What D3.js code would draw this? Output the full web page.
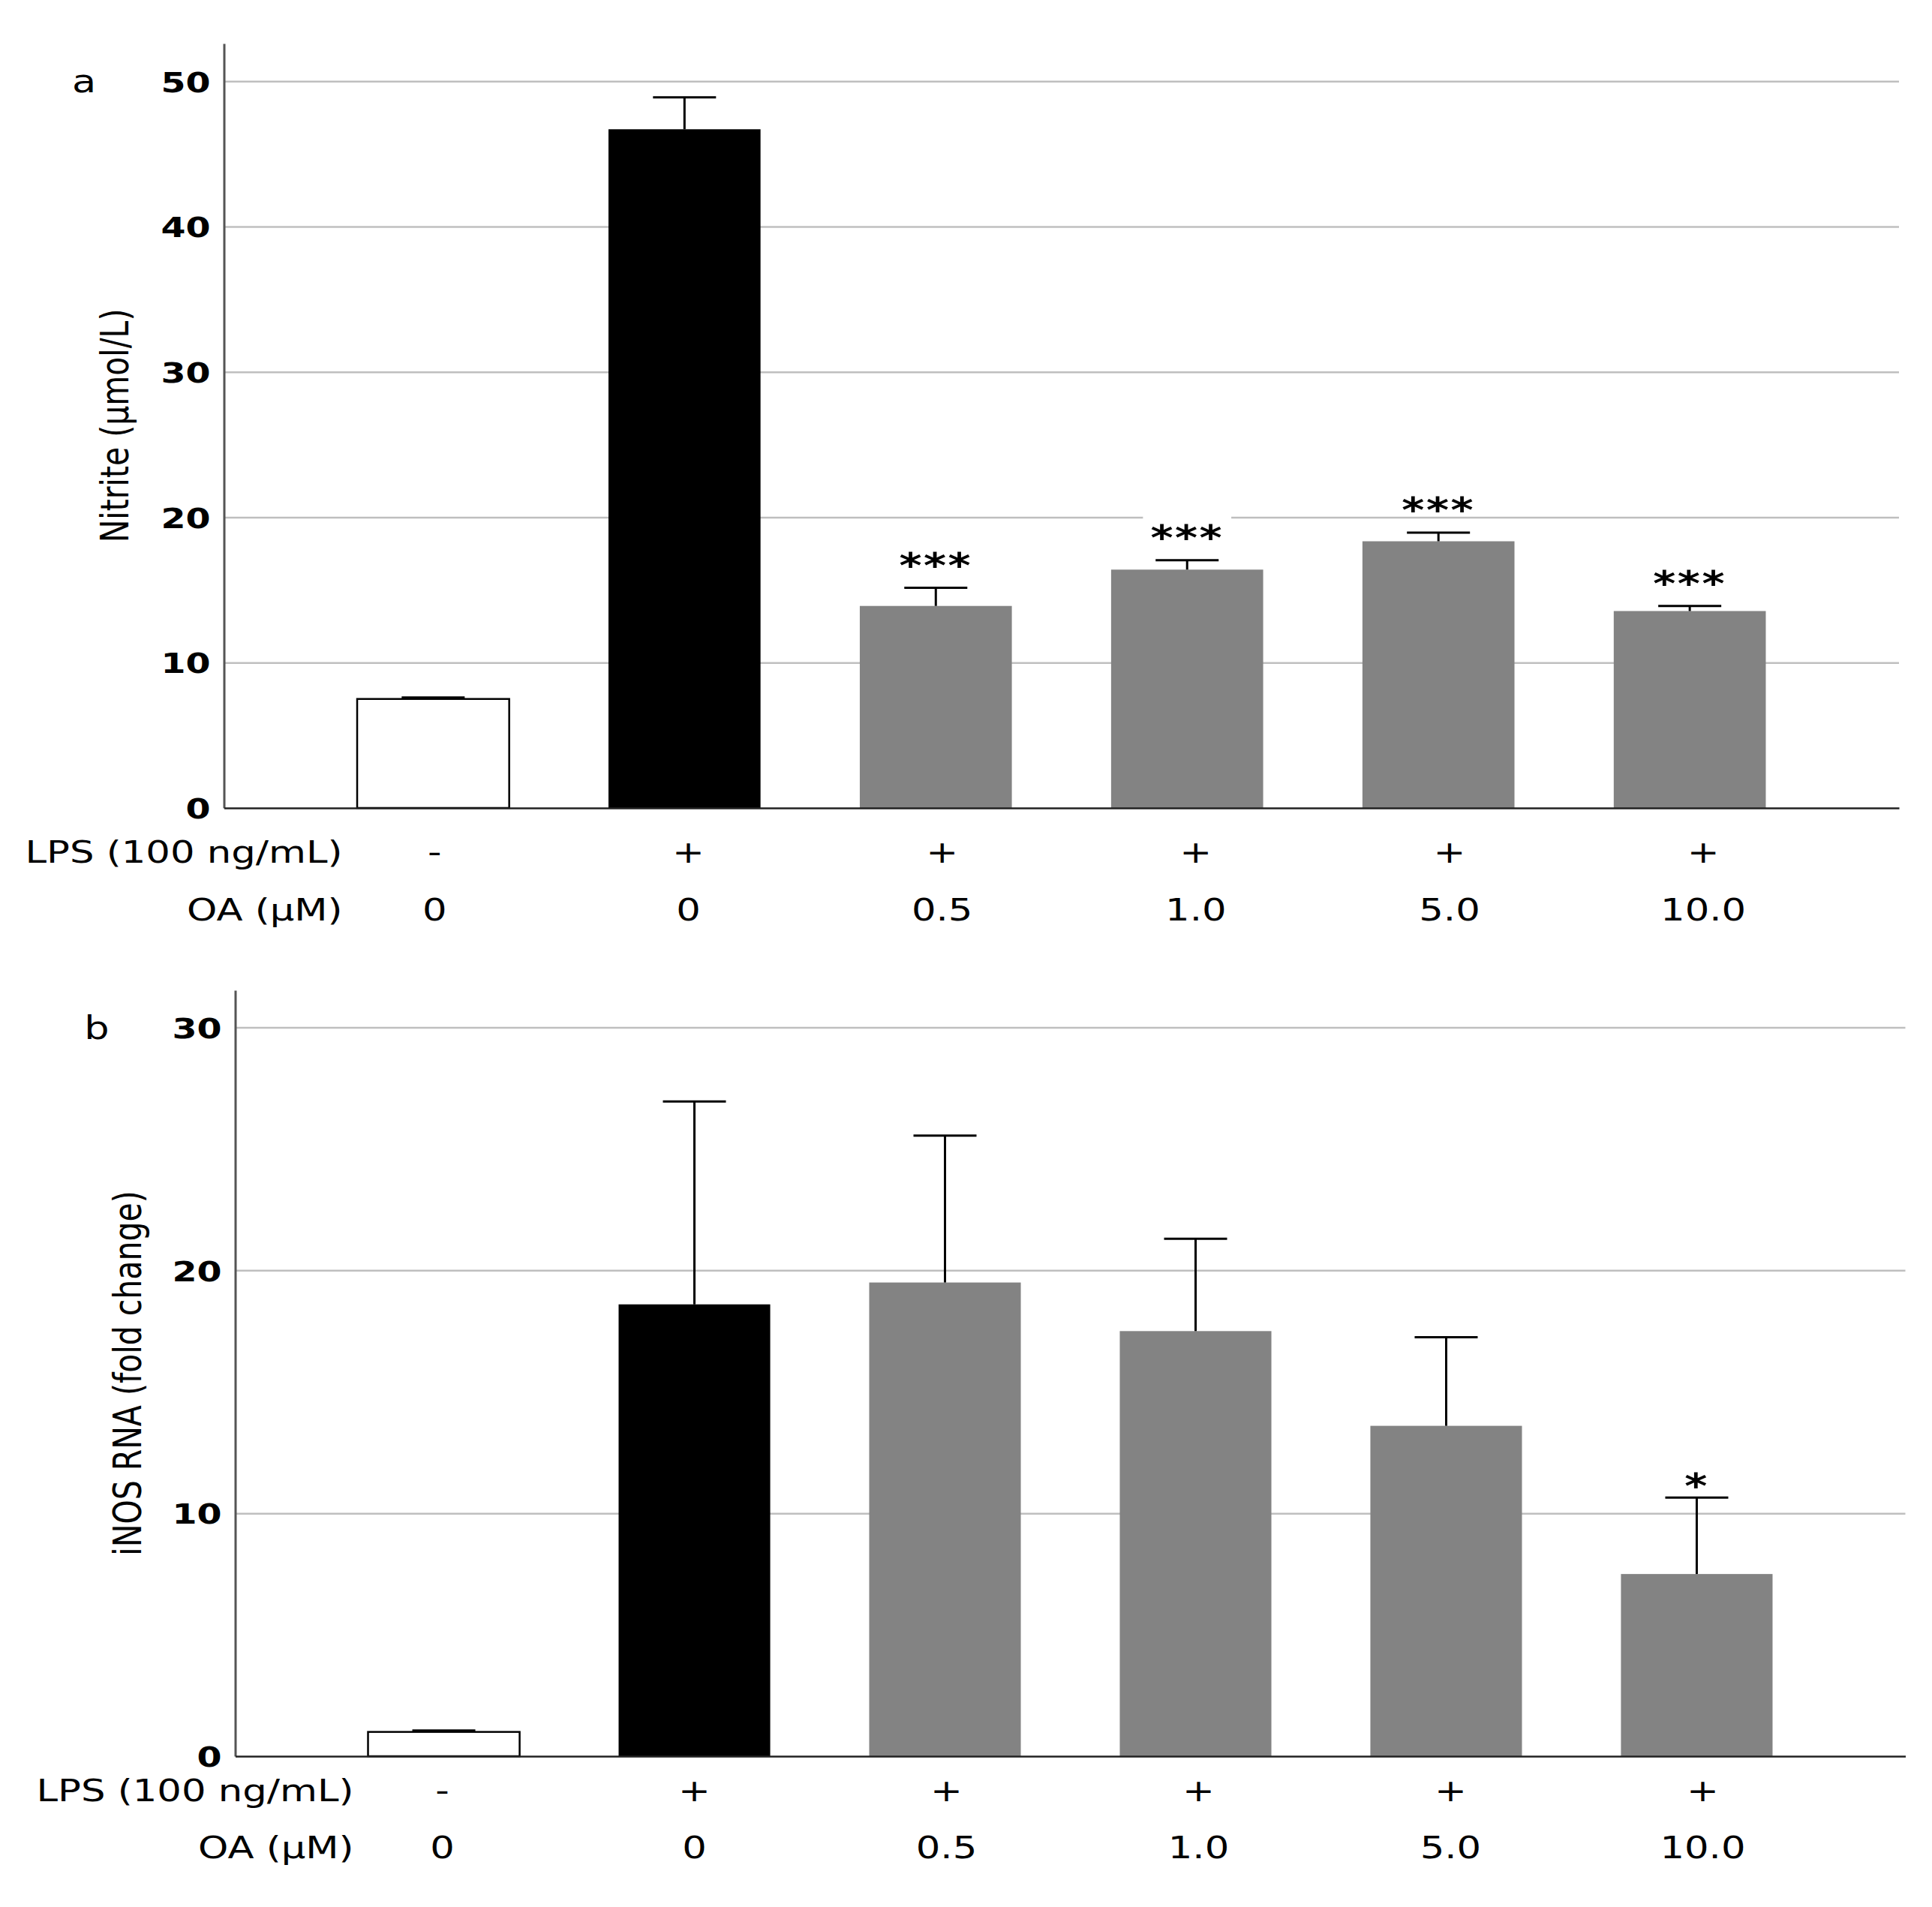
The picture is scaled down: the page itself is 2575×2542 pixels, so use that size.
<!DOCTYPE html>
<html>
<head>
<meta charset="utf-8">
<script src="https://cdn.jsdelivr.net/npm/d3@7"></script>
<style>
  body { margin: 0; background: #fff; }
  text { font-family: "DejaVu Sans", sans-serif; fill: #000; }
</style>
</head>
<body>
<div id="chart"></div>
<script>
const groups = ['ctrl', 'lps', 'oa05', 'oa1', 'oa5', 'oa10'];
const lpsLabels = ['-', '+', '+', '+', '+', '+'];
const oaLabels = ['0', '0', '0.5', '1.0', '5.0', '10.0'];
const barFills = ['#ffffff', '#000000', '#838383', '#838383', '#838383', '#838383'];

// panel a: nitrite
const nitriteMeans = [7.5, 46.7, 13.9, 16.4, 18.35, 13.55];
const nitriteErrors = [0.1, 2.2, 1.25, 0.65, 0.6, 0.35];
const nitriteSig = ['', '', '***', '***', '***', '***'];
const nitriteTicks = [0, 10, 20, 30, 40, 50];

// panel b: iNOS RNA
const inosMeans = [1.0, 18.6, 19.5, 17.5, 13.6, 7.5];
const inosErrors = [0.06, 8.35, 6.05, 3.8, 3.65, 3.15];
const inosSig = ['', '', '', '', '', '*'];
const inosTicks = [0, 10, 20, 30];

const W = 2575, H = 2542;
const SX = 1.25; // the source figure's lettering is stretched sideways

const svg = d3.select('#chart').append('svg')
  .attr('width', W)
  .attr('height', H);

const panels = [
  { letter: 'a', title: 'Nitrite (\u00b5mol/L)', means: nitriteMeans, errors: nitriteErrors, sig: nitriteSig,
    ticks: nitriteTicks, yMax: 52.6, left: 298.5, right: 2531, top: 58, bottom: 1077,
    titleX: 153, letterX: 112, lpsDy: 58, oaDy: 135, sigGap: 42, labelShift: [2, 18] },
  { letter: 'b', title: 'iNOS RNA (fold change)', means: inosMeans, errors: inosErrors, sig: inosSig,
    ticks: inosTicks, yMax: 31.53, left: 313.5, right: 2539.5, top: 1320, bottom: 2341,
    titleX: 170, letterX: 129, lpsDy: 45, oaDy: 121, sigGap: 28, labelShift: [-2, 8] }
];

function stretched(sel, x, y, extra) {
  return sel.attr('transform', `translate(${x},${y}) scale(${SX},1)` + (extra || ''));
}

function drawPanel(p) {
  const g = svg.append('g');

  const x = d3.scaleBand()
    .domain(groups)
    .range([p.left, p.right])
    .paddingInner(0.395)
    .paddingOuter(0.53);

  const y = d3.scaleLinear()
    .domain([0, p.yMax])
    .range([p.bottom, p.top]);

  // the treatment labels under the axis are spread a touch wider than the bars
  const c0 = x(groups[0]) + x.bandwidth() / 2;
  const c5 = x(groups[groups.length - 1]) + x.bandwidth() / 2;
  const xl = d3.scalePoint()
    .domain(groups)
    .range([c0 + p.labelShift[0], c5 + p.labelShift[1]]);

  const rows = groups.map((k, i) => ({
    key: k, mean: p.means[i], err: p.errors[i], sig: p.sig[i], fill: barFills[i],
    lps: lpsLabels[i], oa: oaLabels[i]
  }));

  // gridlines
  g.append('g')
    .attr('transform', `translate(${p.left},0)`)
    .call(d3.axisLeft(y).tickValues(p.ticks.filter(t => t > 0)).tickSize(-(p.right - p.left)).tickFormat(''))
    .call(s => s.select('.domain').remove())
    .call(s => s.selectAll('.tick line').attr('stroke', '#bfbfbf').attr('stroke-width', 2.5));

  // bars
  g.append('g')
    .selectAll('rect')
    .data(rows)
    .join('rect')
    .attr('x', d => x(d.key))
    .attr('y', d => y(d.mean))
    .attr('width', x.bandwidth())
    .attr('height', d => y(0) - y(d.mean))
    .attr('fill', d => d.fill)
    .attr('stroke', d => d.fill === '#ffffff' ? '#000' : 'none')
    .attr('stroke-width', 2.5);

  // error bars (upper only)
  const eb = g.append('g')
    .selectAll('g')
    .data(rows)
    .join('g')
    .attr('transform', d => `translate(${x(d.key) + x.bandwidth() / 2},0)`);

  eb.append('line')
    .attr('y1', d => y(d.mean))
    .attr('y2', d => y(d.mean + d.err))
    .attr('stroke', '#000')
    .attr('stroke-width', 3);

  eb.append('line')
    .attr('x1', -42)
    .attr('x2', 42)
    .attr('y1', d => y(d.mean + d.err))
    .attr('y2', d => y(d.mean + d.err))
    .attr('stroke', '#000')
    .attr('stroke-width', 3);

  // significance marks, on a white patch that cuts the gridline
  const sg = g.append('g')
    .selectAll('g')
    .data(rows.filter(d => d.sig))
    .join('g')
    .attr('transform', d => `translate(${x(d.key) + x.bandwidth() / 2},${y(d.mean + d.err) - p.sigGap})`);

  sg.each(function (d) {
    const grp = d3.select(this);
    const t = grp.append('text')
      .attr('text-anchor', 'middle')
      .attr('dy', '0.62em')
      .attr('transform', `scale(${SX},1)`)
      .style('font-size', '46px')
      .style('font-weight', 'bold')
      .style('letter-spacing', '2px')
      .text(d.sig);
    const bb = t.node().getBBox();
    grp.insert('rect', 'text')
      .attr('x', -bb.width * SX / 2 - 10)
      .attr('y', -18)
      .attr('width', bb.width * SX + 20)
      .attr('height', 36)
      .attr('fill', '#fff');
  });

  // axes
  g.append('g')
    .attr('transform', `translate(${p.left},0)`)
    .call(d3.axisLeft(y).tickValues([]).tickSizeOuter(0))
    .call(s => s.select('.domain').attr('stroke', '#555').attr('stroke-width', 3));

  g.append('g')
    .attr('transform', `translate(0,${p.bottom})`)
    .call(d3.axisBottom(x).tickValues([]).tickSizeOuter(0))
    .call(s => s.select('.domain').attr('stroke', '#222').attr('stroke-width', 2.5));

  // y tick labels
  g.append('g')
    .attr('transform', `translate(${p.left},0)`)
    .call(d3.axisLeft(y).tickValues(p.ticks).tickSize(0).tickPadding(0))
    .call(s => s.select('.domain').remove())
    .call(s => s.selectAll('.tick text')
      .attr('x', -18 / SX)
      .attr('dy', '0.36em')
      .attr('transform', `scale(${SX},1)`)
      .style('font-size', '38px')
      .style('font-weight', 'bold'));

  // y title
  stretched(g.append('text'), p.titleX, (p.top + p.bottom) / 2, ' rotate(-90)')
    .attr('text-anchor', 'middle')
    .attr('dy', '0.36em')
    .style('font-size', '41px')
    .text(p.title);

  // panel letter
  stretched(g.append('text'), p.letterX, y(p.ticks[p.ticks.length - 1]))
    .attr('text-anchor', 'middle')
    .attr('dy', '0.36em')
    .style('font-size', '42px')
    .text(p.letter);

  // treatment rows under the axis
  const rowDefs = [
    { label: 'LPS (100 ng/mL)', dy: p.lpsDy, key: 'lps' },
    { label: 'OA (\u00b5M)', dy: p.oaDy, key: 'oa' }
  ];
  rowDefs.forEach(r => {
    stretched(g.append('text'), p.left + 158, p.bottom + r.dy)
      .attr('text-anchor', 'end')
      .attr('dy', '0.36em')
      .style('font-size', '41px')
      .text(r.label);

    g.append('g')
      .selectAll('text')
      .data(rows)
      .join('text')
      .attr('transform', d => `translate(${xl(d.key)},${p.bottom + r.dy}) scale(${SX},1)`)
      .attr('text-anchor', 'middle')
      .attr('dy', '0.36em')
      .style('font-size', '41px')
      .text(d => d[r.key]);
  });
}

panels.forEach(drawPanel);
</script>
</body>
</html>
